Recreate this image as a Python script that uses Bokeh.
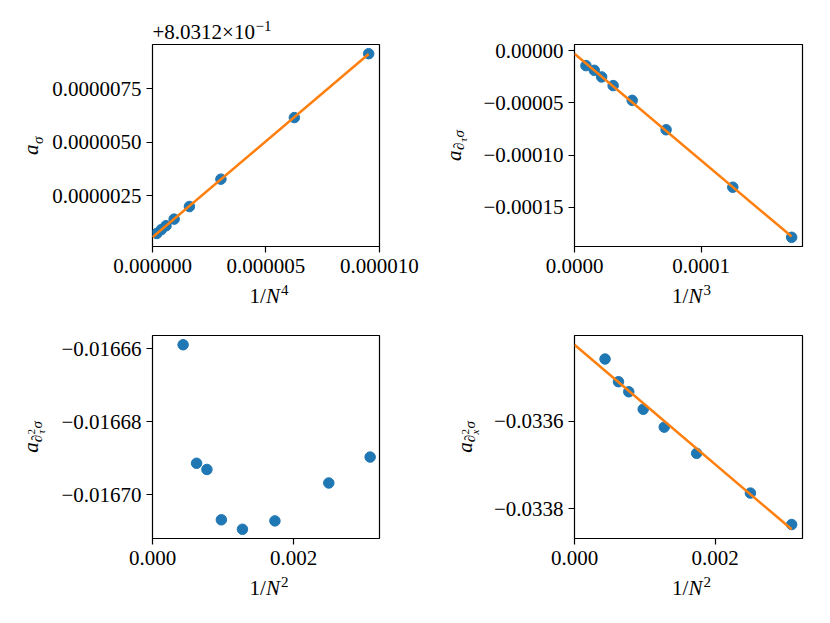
import numpy as np
from bokeh.plotting import figure
from bokeh.models import Range1d, FixedTicker, CustomJSTickFormatter, Label
from bokeh.layouts import column, row
from bokeh.embed import file_html
from bokeh.resources import INLINE

# ---------------- data ----------------
N = [18, 20, 24, 28, 32, 36, 40, 48]

# top-left: a_sigma, shown relative to the offset 0.80312
a_sigma_offset = 0.80312
a_sigma_delta = [9.14e-6, 6.15e-6, 3.27e-6, 1.99e-6, 1.40e-6, 1.09e-6, 0.91e-6, 0.73e-6]

# top-right: a_{d_tau sigma}
a_dtau_sigma = [-1.785e-4, -1.306e-4, -7.57e-5, -4.76e-5, -3.35e-5, -2.52e-5, -1.89e-5, -1.44e-5]

# bottom-left: a_{d^2_tau sigma}
a_dtau2_sigma = [-0.0166897, -0.0166968, -0.0167072, -0.0167095, -0.0167069,
                 -0.0166931, -0.0166914, -0.0166589]

# bottom-right: a_{d^2_x sigma}
a_dx2_sigma = [-0.033836, -0.033764, -0.033673, -0.033613, -0.033572,
               -0.033532, -0.033509, -0.033457]

# ticks
tl_xticks = [0.0, 0.000005, 0.00001]
tl_yticks = [0.0000025, 0.0000050, 0.0000075]
tr_xticks = [0.0, 0.0001]
tr_yticks = [0.0, -0.00005, -0.00010, -0.00015]
bl_xticks = [0.0, 0.002]
bl_yticks = [-0.01666, -0.01668, -0.01670]
br_xticks = [0.0, 0.002]
br_yticks = [-0.0336, -0.0338]

# ---------------- styling ----------------
FONT = "Liberation Serif"
BLUE = "#1f77b4"
ORANGE = "#ff7f0e"

Narr = np.array(N, dtype=float)
inv_N4 = 1.0 / Narr**4
inv_N3 = 1.0 / Narr**3
inv_N2 = 1.0 / Narr**2


def fmt(d):
    return CustomJSTickFormatter(code="return tick.toFixed(%d).replace('-', '\u2212');" % d)


def make_fig(xs, ys, with_fit, xticks, yticks, xdec, ydec, fw, fh, left, right, top, bottom):
    xs = np.asarray(xs, dtype=float)
    ys = np.asarray(ys, dtype=float)
    ylo, yhi = ys.min(), ys.max()
    xlo = xs.min()
    fit = None
    if with_fit:
        slope, icpt = np.polyfit(xs, ys, 1)
        lx = np.array([0.0, xs.max()])
        ly = icpt + slope * lx
        fit = (lx, ly)
        ylo = min(ylo, ly.min())
        yhi = max(yhi, ly.max())
        xlo = 0.0
    xmax = xs.max()
    xr = Range1d(0.0, xmax + 0.05 * (xmax - xlo))
    pad = 0.05 * (yhi - ylo)
    yr = Range1d(ylo - pad, yhi + pad)

    p = figure(frame_width=fw, frame_height=fh, x_range=xr, y_range=yr,
               min_border_left=left, min_border_right=right,
               min_border_top=top, min_border_bottom=bottom,
               toolbar_location=None, tools="", output_backend="svg")
    p.grid.visible = False
    p.outline_line_color = "black"
    p.outline_line_width = 1.2
    p.background_fill_color = "white"
    p.border_fill_color = "white"
    for ax in (p.xaxis[0], p.yaxis[0]):
        ax.axis_line_color = None
        ax.major_tick_out = 6
        ax.major_tick_in = 0
        ax.minor_tick_out = 0
        ax.minor_tick_in = 0
        ax.major_tick_line_width = 1.2
        ax.major_tick_line_color = "black"
        ax.major_label_text_font = FONT
        ax.major_label_text_font_size = "21px"
        ax.major_label_text_color = "black"
    p.xaxis[0].major_label_standoff = 6
    p.yaxis[0].major_label_standoff = 5
    p.xaxis[0].ticker = FixedTicker(ticks=xticks)
    p.yaxis[0].ticker = FixedTicker(ticks=yticks)
    p.xaxis[0].formatter = fmt(xdec)
    p.yaxis[0].formatter = fmt(ydec)

    p.scatter(xs, ys, size=10.5, color=BLUE, line_color=BLUE)
    if fit is not None:
        p.line(fit[0], fit[1], line_color=ORANGE, line_width=2.5)
    return p


def holder(w, h):
    """Blank figure used only to carry text labels outside the plotting frames."""
    q = figure(frame_width=w, frame_height=h, min_border=0,
               x_axis_location=None, y_axis_location=None,
               toolbar_location=None, tools="", output_backend="svg")
    q.grid.visible = False
    q.outline_line_color = None
    q.background_fill_color = "white"
    q.border_fill_color = "white"
    return q


DESC = 0.2   # baseline correction (fraction of font size)


def lab(q, txt, x, y, size, style, align="left", ang=0.0):
    q.add_layout(Label(x=x, y=y, x_units="screen", y_units="screen", text=txt,
                       text_font=FONT, text_font_size="%gpx" % size,
                       text_font_style=style, text_color="black",
                       text_align=align, text_baseline="alphabetic", angle=ang))


def hrich(q, pieces, ax, ay):
    for txt, u, v, size, style in pieces:
        lab(q, txt, ax + u, ay + v + DESC * size, size, style)


def vrich(q, pieces, ax, ay):
    # vertical text reading bottom-to-top; each piece is anchored at its end
    for txt, u, v, size, style, w in pieces:
        lab(q, txt, ax - v - DESC * size, ay + u + w, size, style,
            align="right", ang=np.pi / 2)


def xlabel(q, power, cx, by):
    hrich(q, [("1/", -18.9, 0, 21, "normal"),
              ("N", -2.6, 0, 21, "italic"),
              (power, 12.5, 8, 15, "normal")], cx, by)


# geometry
FW_L, FW_R = 227, 228
FH_T, FH_B = 202, 203
LW1, LW2 = 48, 55          # width of the y-label strips
BL1, BL2 = 104, 93         # left borders of the left / right panels
BR1, BR2 = 46, 20          # right borders
TOP1, PT1 = 43, 1          # strip above the top-left panel / its top border
TOP2, PT2 = 36, 8          # strip above the top-right panel / its top border
FRAME_TOP = TOP1 + PT1     # = TOP2 + PT2
XH = 34                    # x-label strip height
PB = 36                    # bottom border (tick labels)

p1 = make_fig(inv_N4, a_sigma_delta, True, tl_xticks, tl_yticks, 6, 7,
              FW_L, FH_T, BL1, BR1, PT1, PB)
p2 = make_fig(inv_N3, a_dtau_sigma, True, tr_xticks, tr_yticks, 4, 5,
              FW_R, FH_T, BL2, BR2, PT2, PB)
p3 = make_fig(inv_N2, a_dtau2_sigma, False, bl_xticks, bl_yticks, 3, 5,
              FW_L, FH_B, BL1, BR1, 19, PB)
p4 = make_fig(inv_N2, a_dx2_sigma, True, br_xticks, br_yticks, 3, 4,
              FW_R, FH_B, BL2, BR2, 19, PB)

W1 = BL1 + FW_L + BR1
W2 = BL2 + FW_R + BR2
H1 = FRAME_TOP + FH_T + PB + XH
H2 = 19 + FH_B + PB + XH

# strips in the panel columns: their frames line up with the panels' frames,
# so x is measured from the panel frame's left edge
t1 = holder(W1, TOP1)
t2 = holder(W2, TOP2)
hrich(t1, [("+8.0312×10", 0, 0, 21, "normal"), ("\u22121", 103, 8, 15, "normal")], 0, 7)

x1 = holder(W1, XH)
x2 = holder(W2, XH)
x3 = holder(W1, XH)
x4 = holder(W2, XH)
xlabel(x1, "4", FW_L / 2 + 2.5, 16)
xlabel(x2, "3", FW_R / 2 + 2.5, 16)
xlabel(x3, "2", FW_L / 2 + 2.5, 16)
xlabel(x4, "2", FW_R / 2 + 2.5, 16)

# y-label strips
y1 = holder(LW1, H1)
y2 = holder(LW2, H1)
y3 = holder(LW1, H2)
y4 = holder(LW2, H2)
cy1 = H1 - (FRAME_TOP + FH_T / 2)
cy2 = H2 - (19 + FH_B / 2)
vrich(y1, [("a", -9.5, 0, 21, "italic", 10.5), ("σ", 1.5, -5, 15, "italic", 7.5)],
      35, cy1)
vrich(y2, [("a", -15.5, 0, 21, "italic", 10.5), ("∂", -4.5, -4, 15, "italic", 7.5),
           ("τ", 3.0, -7.5, 11, "italic", 4.6), ("σ", 8.0, -4, 15, "italic", 7.5)],
      32.5, cy1)
vrich(y3, [("a", -15.75, 0, 21, "italic", 10.5), ("∂", -5.25, -4, 15, "italic", 7.5),
           ("2", 2.5, 1.5, 11, "normal", 5.5), ("τ", 2.5, -8, 11, "italic", 4.6),
           ("σ", 8.5, -4, 15, "italic", 7.5)],
      35, cy2)
vrich(y4, [("a", -15.75, 0, 21, "italic", 10.5), ("∂", -5.25, -4, 15, "italic", 7.5),
           ("2", 2.5, 1.5, 11, "normal", 5.5), ("x", 2.5, -8, 11, "italic", 4.9),
           ("σ", 8.5, -4, 15, "italic", 7.5)],
      43.3, cy2)

layout = row(
    column(y1, y3),
    column(t1, p1, x1, p3, x3),
    column(y2, y4),
    column(t2, p2, x2, p4, x4),
)
open("out.html", "w").write(file_html(layout, INLINE))
